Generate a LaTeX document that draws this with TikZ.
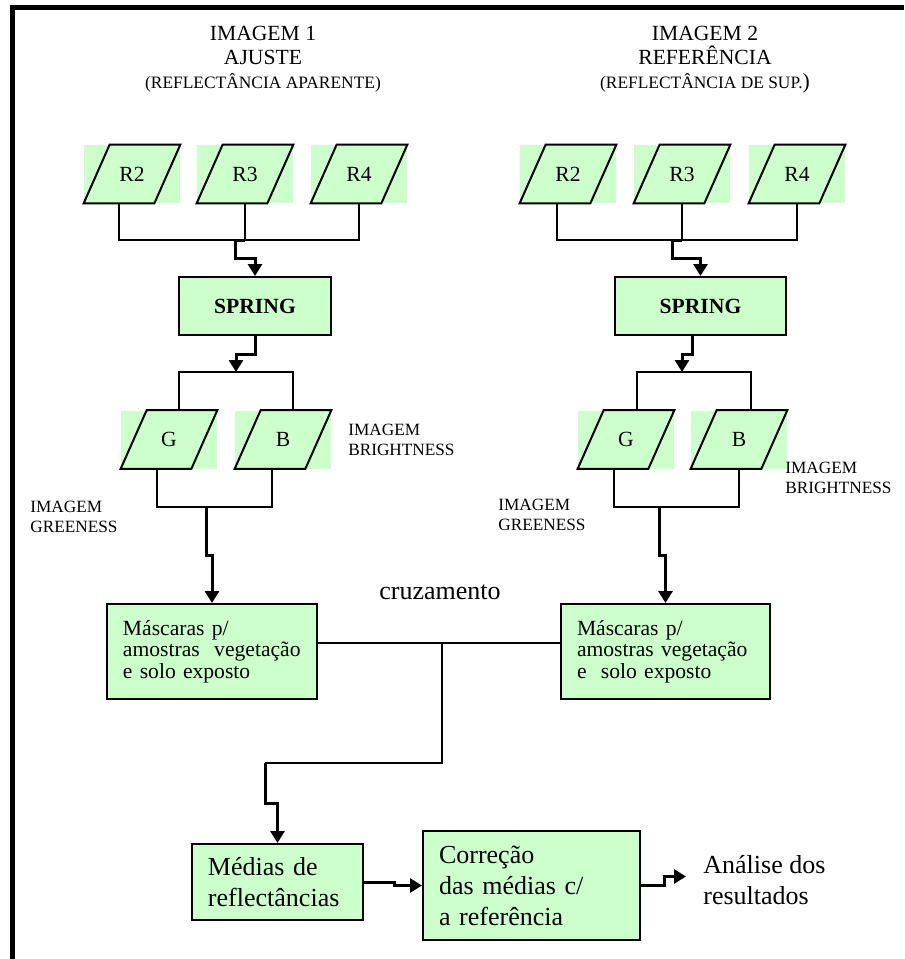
\documentclass[tikz,border=0pt]{standalone}
\usepackage{fontspec}
\setmainfont{Liberation Serif}
\usetikzlibrary{arrows.meta}
\definecolor{verdeclaro}{HTML}{CCFFCC}

\begin{document}
\begin{tikzpicture}[
    x = 0.2mm, y = -0.2mm,
    fio/.style      = {line width = 0.3mm},
    seta/.style     = {line width = 0.6mm, -{Triangle[width = 2.8mm, length = 2.4mm]}},
    contorno/.style = {line width = 0.4mm, line join = miter},
    banda/.style    = {fill = verdeclaro, minimum width = 19.2mm, minimum height = 11.6mm,
                       inner sep = 0pt, font = \fontsize{12.3}{14}\selectfont},
    caixa/.style    = {draw, line width = 0.4mm, fill = verdeclaro, align = left,
                       inner xsep = 3.2mm, inner ysep = 0pt},
    texto/.style    = {font = \fontsize{12.3}{12.3}\selectfont},
    textao/.style   = {font = \fontsize{14.8}{17.6}\selectfont},
    rotulo/.style   = {font = \fontsize{9.8}{11.4}\selectfont, align = left,
                       anchor = north west, inner sep = 0pt},
    titulo/.style   = {font = \fontsize{12.3}{13.7}\selectfont, align = center,
                       anchor = north, inner sep = 0pt}
  ]
  \useasboundingbox (0, 0) rectangle (904, 959);
  % frame
  \draw[line width = 1mm] (12.5, 959) -- (12.5, 7.5) -- (904, 7.5);
  % titles
  \node[titulo] (tit1) at (263, 26) {IMAGEM 1\\AJUSTE\\{\fontsize{9.9}{13}\selectfont (REFLECTÂNCIA APARENTE)}};
  \node[titulo] (tit2) at (705, 26) {IMAGEM 2\\REFERÊNCIA\\{\fontsize{9.9}{13}\selectfont (REFLECTÂNCIA DE SUP.{\fontsize{12.3}{13}\selectfont)}}};
  % bands
  \node[banda] (r2a) at (132, 174) {R2};
  \node[banda] (r3a) at (245, 174) {R3};
  \node[banda] (r4a) at (359, 174) {R4};
  \node[banda] (r2b) at (568, 174) {R2};
  \node[banda] (r3b) at (682, 174) {R3};
  \node[banda] (r4b) at (797, 174) {R4};
  % SPRING
  \node[caixa, align = center, minimum width = 30.4mm, minimum height = 11.6mm,
        font = \bfseries\fontsize{12.3}{14}\selectfont] (spring1) at (255, 306) {SPRING};
  \node[caixa, align = center, minimum width = 34.2mm, minimum height = 11.6mm,
        font = \bfseries\fontsize{12.3}{14}\selectfont] (spring2) at (700.5, 306) {SPRING};
  % greeness and brightness
  \node[banda] (g1) at (169, 439.5) {G};
  \node[banda] (b1) at (283, 439.5) {B};
  \node[banda] (g2) at (626, 439.5) {G};
  \node[banda] (b2) at (739, 439.5) {B};
  \node[rotulo] (brilho1) at (348, 424) {IMAGEM\\BRIGHTNESS};
  \node[rotulo] (verde1)  at (30, 501)  {IMAGEM\\GREENESS};
  \node[rotulo] (brilho2) at (785, 462) {IMAGEM\\BRIGHTNESS};
  \node[rotulo] (verde2)  at (498, 499) {IMAGEM\\GREENESS};
  % masks
  \node[caixa, texto, text width = 35.6mm, minimum height = 19mm] (masc1) at (212, 651.5)
    {Máscaras p/\\amostras\ \ vegetação\\e solo exposto};
  \node[caixa, texto, text width = 35.4mm, minimum height = 19mm] (masc2) at (665.5, 651.5)
    {Máscaras p/\\amostras vegetação\\e\ \ solo exposto};
  \node[textao, anchor = base] (cruz) at (440, 599) {cruzamento};
  % results
  \node[caixa, textao, text width = 27.8mm, minimum height = 15.2mm] (medias) at (277.5, 882)
    {Médias de\\reflectâncias};
  \node[caixa, textao, text width = 37mm, minimum height = 21.8mm] (corr) at (531.5, 885.5)
    {Correção\\das médias c/\\a referência};
  \node[textao, align = left, anchor = north west, inner ysep = 0pt, inner xsep = 3.4mm] (analise)
    at (686, 855) {Análise dos\\resultados};
  % parallelogram outlines
  \foreach \n in {r2a, r3a, r4a, r2b, r3b, r4b, g1, b1, g2, b2}
    \draw[contorno] (\n.south west) -- ([xshift = 5.2mm]\n.north west) -- (\n.north east)
      -- ([xshift = -5.2mm]\n.south east) -- cycle;
  % junctions
  \coordinate (ja) at (245, 240);
  \coordinate (jb) at (682, 240);
  \coordinate (jc) at (236, 372);
  \coordinate (jd) at (682, 372);
  \coordinate (je) at (206, 507);
  \coordinate (jf) at (659, 507);
  \coordinate (jg) at (442, 643);
  \coordinate (jh) at (265, 763);
  % bands to SPRING
  \draw[fio] ([xshift = -2.6mm]r2a.south) |- (ja) -| (r4a.south);
  \draw[fio] (r3a.south) -- (ja);
  \draw[seta] (ja) -- ++(-10, 0) -- ++(0, 18) -| (spring1);
  \draw[fio] ([xshift = -2.2mm]r2b.south) |- (jb) -| (r4b.south);
  \draw[fio] (r3b.south) -- (jb);
  \draw[seta] (jb) -- ++(-10, 0) -- ++(0, 18) -| (spring2);
  % SPRING to G and B
  \draw[seta] (spring1.south) -- ++(0, 18) -| (jc);
  \draw[fio] ([xshift = 2mm]g1.north) |- (jc) -| ([xshift = 2mm]b1.north);
  \draw[seta] ([xshift = -1.7mm]spring2.south) -- ++(0, 18) -| (jd);
  \draw[fio] ([xshift = 2.2mm]g2.north) |- (jd) -| ([xshift = 2.4mm]b2.north);
  % G and B to masks
  \draw[fio] ([xshift = -2.4mm]g1.south) |- (je) -| ([xshift = -2.2mm]b1.south);
  \draw[seta] (je) -- ++(0, 48) -| (masc1);
  \draw[fio] ([xshift = -2.4mm]g2.south) |- (jf) -| (b2.south);
  \draw[seta] (jf) -- ++(0, 48) -| (masc2);
  % crossing
  \draw[fio] ([yshift = 1.7mm]masc1.east) -- ([yshift = 1.7mm]masc2.west);
  \draw[fio] (jg) |- (jh);
  \draw[seta] (jh) -- ++(0, 40) -| (medias);
  % results
  \draw[seta] (medias.east) -- ++(30, 0) |- (corr);
  \draw[seta] (corr.east) -- ++(23, 0) |- ([yshift = 0.7mm]analise.west);
\end{tikzpicture}
\end{document}
